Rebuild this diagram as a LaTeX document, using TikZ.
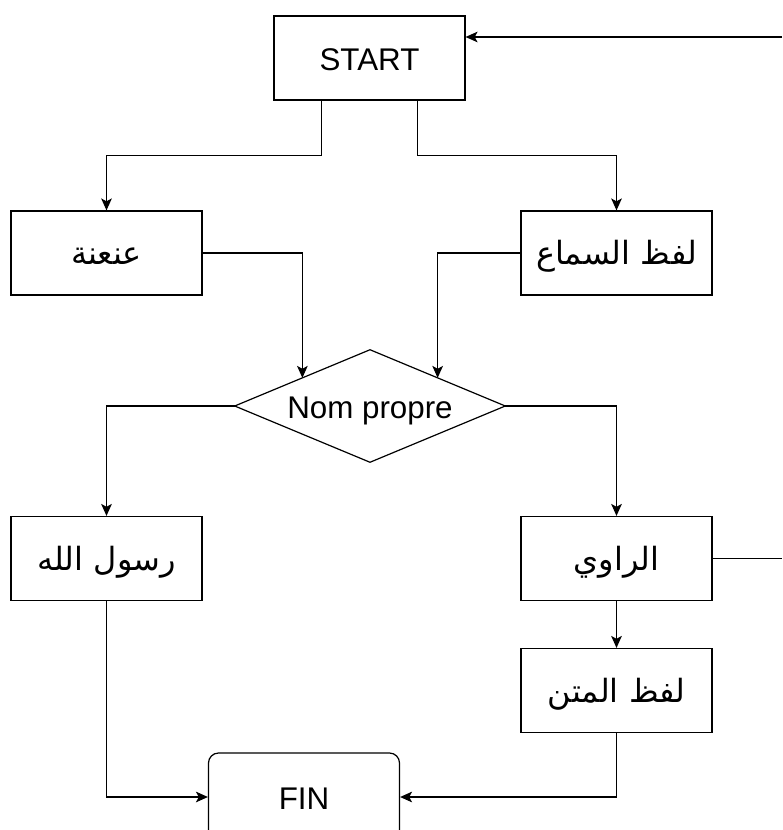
\documentclass[tikz,border=0pt]{standalone}
\usepackage{fontspec}
\setmainfont{Liberation Sans}
\newfontfamily\arabicfont[Script=Arabic]{DejaVu Sans}
\TeXXeTstate=1
\usetikzlibrary{arrows.meta,calc}
\newcommand{\artxt}[1]{{\arabicfont\beginR #1\endR}}
\begin{document}
\begin{tikzpicture}[x=0.75pt,y=-0.75pt,
  box/.style={draw=black,line width=0.9pt,minimum width=143.25pt,minimum height=63pt,inner sep=0pt,text height=18.5pt,text depth=0pt,font=\fontsize{23.5}{27}\selectfont},
  arbox/.style={box,text height=18pt,text depth=0pt,font=\fontsize{24}{28}\selectfont},
  dia/.style={minimum width=202.5pt,minimum height=84pt,inner sep=0pt,text height=18.5pt,text depth=0pt,font=\fontsize{23.5}{27}\selectfont},
  arr/.style={draw=black,line width=0.9pt,-{Stealth[length=9pt,width=8pt,inset=2.2pt]}},
  ln/.style={draw=black,line width=0.9pt}]
\useasboundingbox (0,0) rectangle (782,830);
\node[box] (start) at (369.5,58) {START};
\node[arbox] (anan) at (106.5,253) {\artxt{عنعنة}};
\node[arbox] (sama) at (616.5,253) {\artxt{لفظ السماع}};
\node[dia] (np) at (370,406) {Nom propre};
\draw[ln] (np.west) -- (np.north) -- (np.east) -- (np.south) -- cycle;
\coordinate (npnw) at ($(np.west)!0.5!(np.north)$);
\coordinate (npne) at ($(np.east)!0.5!(np.north)$);
\node[arbox] (rasul) at (106.5,558.5) {\artxt{رسول الله}};
\node[arbox] (rawi) at (616.5,558.5) {\artxt{الراوي}};
\node[arbox] (matn) at (616.5,690.5) {\artxt{لفظ المتن}};
\node[box,rounded corners=7.5pt,minimum height=66pt] (fin) at (304,797) {FIN};
\coordinate (ein) at (782,37);
\coordinate (eout) at (782,558.5);
\draw[arr] (ein) -- (ein -| start.east);
\draw[arr] ([xshift=-36pt]start.south) -- ++(0,55) -| (anan.north);
\draw[arr] ([xshift=36pt]start.south) -- ++(0,55) -| (sama.north);
\draw[arr] (anan.east) -| (npnw);
\draw[arr] (sama.west) -| (npne);
\draw[arr] (np.west) -| (rasul.north);
\draw[arr] (np.east) -| (rawi.north);
\draw[ln] (rawi.east) -- (eout);
\draw[arr] (rawi.south) -- (matn.north);
\draw[arr] (rasul.south) |- (fin.west);
\draw[arr] (matn.south) |- (fin.east);
\end{tikzpicture}
\end{document}
